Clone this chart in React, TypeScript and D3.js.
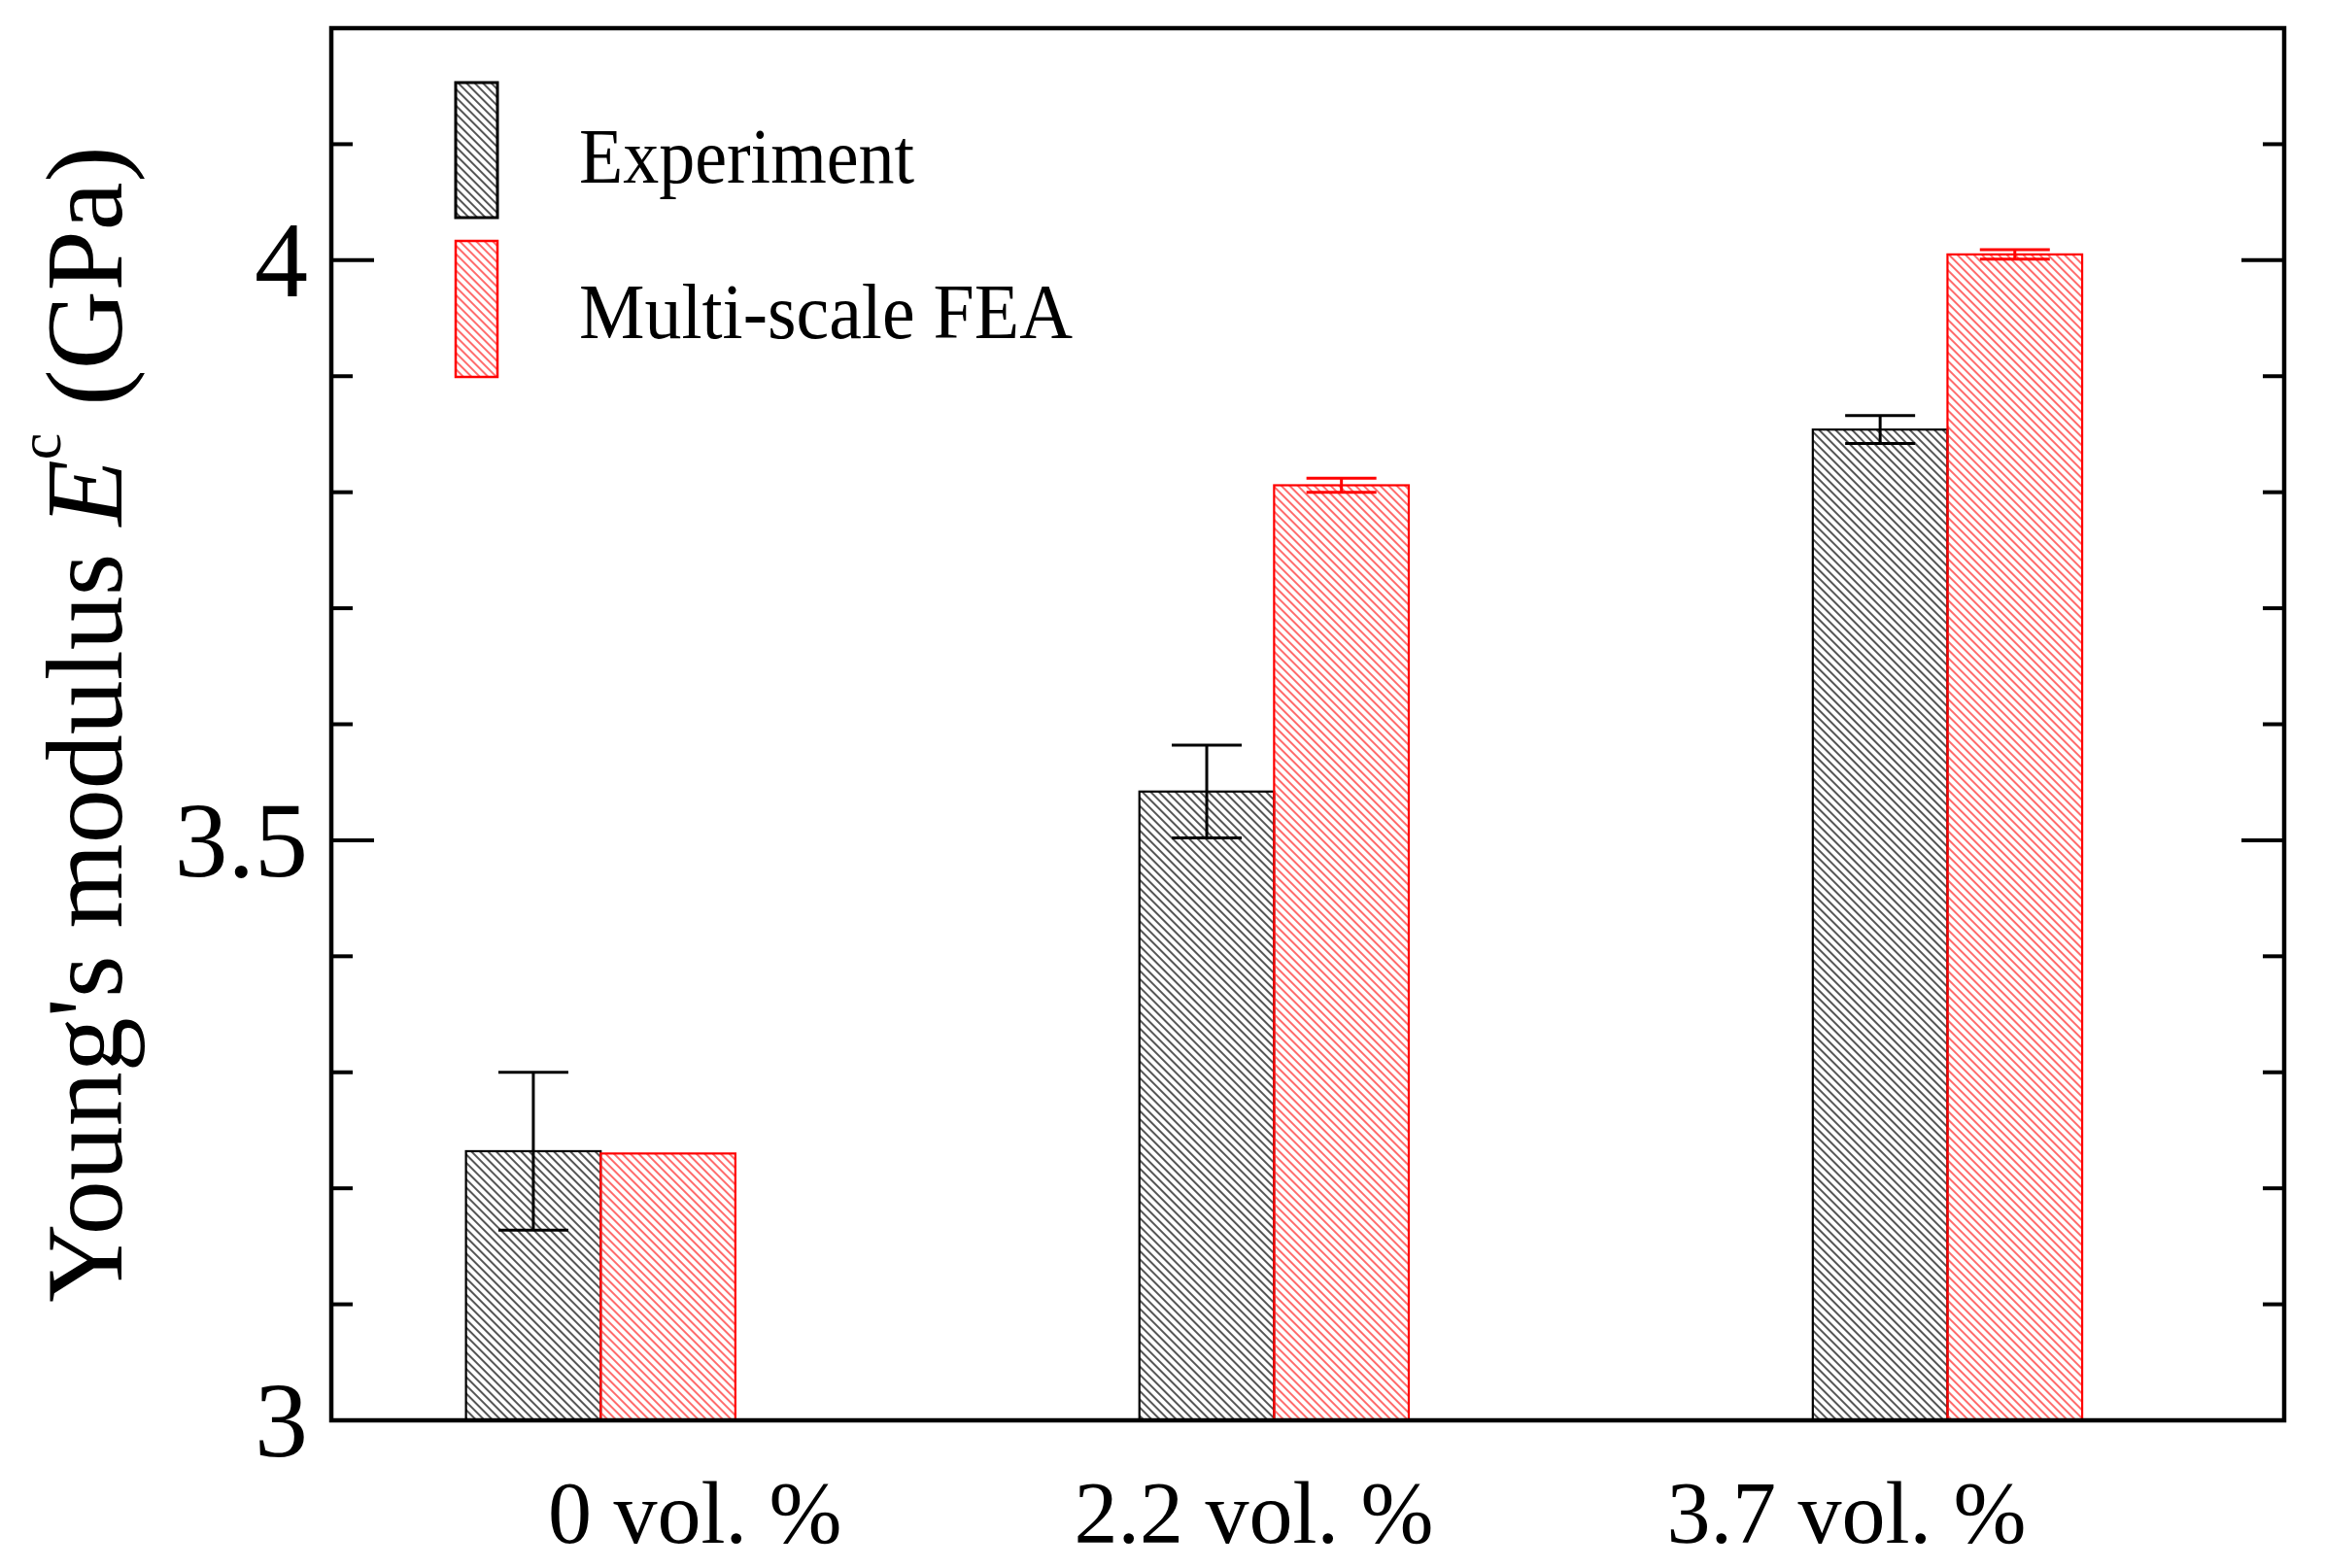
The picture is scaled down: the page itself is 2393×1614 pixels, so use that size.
import React from "react";
import * as d3 from "d3";

// categories and values
const categories = ["0 vol. %", "2.2 vol. %", "3.7 vol. %"];
const labelPositions = [0.14, 0.97, 1.85];
const experiment = [3.232, 3.542, 3.854];
const experimentErr = [0.068, 0.04, 0.012];
const simulation = [3.23, 3.806, 4.005];
const simulationErr = [0, 0.006, 0.004];
const majorTicks = [3, 3.5, 4];
const majorTickLabels = ["3", "3.5", "4"];
const minorTicks = [3.1, 3.2, 3.3, 3.4, 3.6, 3.7, 3.8, 3.9, 4.1];
const legendLabels = ["Experiment", "Multi-scale FEA"];

const W = 2393;
const H = 1614;
const FONT = "'Liberation Serif', 'Times New Roman', serif";
const RED = "#ff0000";

export default function App() {
  const x = d3.scaleLinear().domain([-0.4, 2.5]).range([341, 2351]);
  const y = d3.scaleLinear().domain([3, 4.2]).range([1462, 29]);
  const barW = x(0.2) - x(0);
  const [x0, x1] = x.range();
  const [y0, y1] = y.range();
  const capHalf = 36;

  const series = [
    { values: experiment, errs: experimentErr, offset: -0.2, stroke: "#000", fill: "url(#hatchBlack)" },
    { values: simulation, errs: simulationErr, offset: 0, stroke: RED, fill: "url(#hatchRed)" },
  ];

  return (
    <svg width={W} height={H} style={{ position: "absolute", left: 0, top: 0, background: "#fff" }}>
      <defs>
        <pattern id="hatchBlack" patternUnits="userSpaceOnUse" width={6} height={6} patternTransform="rotate(45)">
          <line x1={0} y1={3} x2={6} y2={3} stroke="#555" strokeWidth={2} />
        </pattern>
        <pattern id="hatchRed" patternUnits="userSpaceOnUse" width={6} height={6} patternTransform="rotate(45)">
          <line x1={0} y1={3} x2={6} y2={3} stroke="#ff5a5a" strokeWidth={1.8} />
        </pattern>
      </defs>

      {/* bars */}
      {series.map((s, si) =>
        s.values.map((v, i) => (
          <rect
            key={`b${si}-${i}`}
            x={x(i + s.offset)}
            y={y(v)}
            width={barW}
            height={y(3) - y(v)}
            fill={s.fill}
            stroke={s.stroke}
            strokeWidth={2.2}
          />
        ))
      )}

      {/* error bars */}
      {series.map((s, si) =>
        s.values.map((v, i) => {
          const e = s.errs[i];
          if (!e) return null;
          const cx = x(i + s.offset + 0.1);
          return (
            <g key={`e${si}-${i}`} stroke={s.stroke} strokeWidth={3}>
              <line x1={cx} x2={cx} y1={y(v + e)} y2={y(v - e)} />
              <line x1={cx - capHalf} x2={cx + capHalf} y1={y(v + e)} y2={y(v + e)} />
              <line x1={cx - capHalf} x2={cx + capHalf} y1={y(v - e)} y2={y(v - e)} />
            </g>
          );
        })
      )}

      {/* frame */}
      <rect x={x0} y={y1} width={x1 - x0} height={y0 - y1} fill="none" stroke="#000" strokeWidth={4.5} />

      {/* ticks, left and right, pointing inward */}
      {majorTicks.map((t) => (
        <g key={`M${t}`} stroke="#000" strokeWidth={4}>
          <line x1={x0} x2={x0 + 44} y1={y(t)} y2={y(t)} />
          <line x1={x1} x2={x1 - 44} y1={y(t)} y2={y(t)} />
        </g>
      ))}
      {minorTicks.map((t) => (
        <g key={`m${t}`} stroke="#000" strokeWidth={4}>
          <line x1={x0} x2={x0 + 22} y1={y(t)} y2={y(t)} />
          <line x1={x1} x2={x1 - 22} y1={y(t)} y2={y(t)} />
        </g>
      ))}

      {/* tick labels */}
      {majorTicks.map((t, i) => (
        <text key={`tl${t}`} x={317} y={y(t)} dy="0.34em" textAnchor="end" fontFamily={FONT} fontSize={110}>
          {majorTickLabels[i]}
        </text>
      ))}

      {/* category labels */}
      {categories.map((c, i) => (
        <text key={c} x={x(labelPositions[i])} y={1588} textAnchor="middle" fontFamily={FONT} fontSize={90}>
          {c}
        </text>
      ))}

      {/* y axis title */}
      <text
        transform={`translate(125,${(y0 + y1) / 2}) rotate(-90)`}
        textAnchor="middle"
        fontFamily={FONT}
        fontSize={112}
      >
        Young's modulus <tspan fontStyle="italic">E</tspan>
        <tspan fontSize={62} dy={-63}>c</tspan>
        <tspan dy={63}> (GPa)</tspan>
      </text>

      {/* legend */}
      <rect x={469} y={85} width={43} height={139} fill="url(#hatchBlack)" stroke="#000" strokeWidth={3} />
      <rect x={469} y={248} width={43} height={140} fill="url(#hatchRed)" stroke={RED} strokeWidth={2.5} />
      <text x={596} y={188} fontFamily={FONT} fontSize={80} textLength={345} lengthAdjust="spacingAndGlyphs">
        {legendLabels[0]}
      </text>
      <text x={596} y={348} fontFamily={FONT} fontSize={80} textLength={508} lengthAdjust="spacingAndGlyphs">
        {legendLabels[1]}
      </text>
    </svg>
  );
}
